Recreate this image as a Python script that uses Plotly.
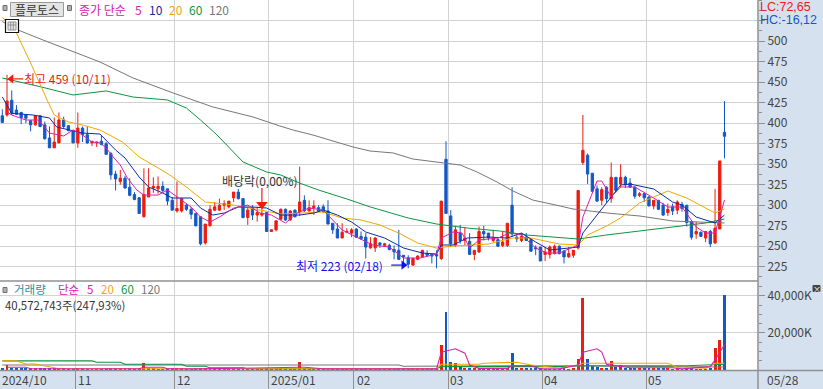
import plotly.graph_objects as go

W, H = 823, 389
RED, BLUE = "#EE1C0E", "#1259C6"
C5, C10, C20, C60, C120 = "#D820B0", "#0A2CA8", "#F0A800", "#0F9440", "#777777"
BAND = "#D6E1EF"
GRID = "#D2D2D2"
FONT = "Noto Sans CJK KR"

# [open, high, low, close] estimated per trading day
candles = [
 (409,417,400,401),(410,459,408,427),(428,440,410,412),(416,422,410,411),(413,414,399,407),
 (410,411,400,406),(403,404,390,398),(398,410,397,409),(409,410,395,396),(398,402,380,381),
 (382,396,370,370),(370,407,370,377),(376,413,376,404),(404,408,394,396),(397,397,390,391),
 (391,392,376,376),(376,413,370,394),(394,396,377,386),(386,396,375,376),(376,378,372,378),
 (376,377,371,377),(378,385,373,374),(375,377,362,362),(363,365,331,337),(338,342,318,332),
 (329,343,325,333),(333,336,320,321),(322,333,311,312),(313,316,306,307),(309,310,290,290),
 (286,345,285,313),(310,345,310,321),(321,334,315,323),(320,335,314,323),(323,329,316,318),
 (320,320,300,305),(306,310,294,294),(293,329,291,296),(293,308,291,308),(300,302,293,295),
 (295,298,283,289),(290,290,274,275),(286,286,251,253),(254,277,252,277),(275,300,274,295),
 (294,304,293,298),(294,308,293,300),(300,306,294,302),(298,305,296,305),(309,316,304,316),
 (316,320,307,308),(308,308,284,285),(285,298,276,294),(297,300,282,288),(288,298,280,291),
 (288,295,286,290),(291,292,268,268),(268,270,268,270),(270,281,268,281),(283,296,282,295),
 (295,296,281,282),(282,294,281,293),(294,295,285,286),(292,347,287,304),(306,312,292,293),
 (293,306,292,297),(297,306,288,299),(297,300,292,293),(298,301,291,292),(293,306,277,277),
 (278,278,265,270),(271,278,260,260),(260,278,260,267),(267,272,266,268),(266,272,261,270),
 (271,272,260,261),(262,268,258,259),(261,266,235,249),(248,261,247,253),(248,261,243,260),
 (254,255,248,252),(251,254,249,253),(251,253,245,246),(246,251,234,243),(245,270,233,234),
 (239,239,227,237),(236,239,223,228),(227,236,226,235),(234,239,233,238),(237,245,236,245),
 (241,245,237,239),(240,241,229,238),(240,245,223,238),(235,305,233,305),(356,378,290,290),
 (287,294,249,253),(251,275,249,270),(266,276,253,257),(257,273,251,260),(256,266,240,240),
 (240,245,233,245),(243,274,242,268),(268,275,257,265),(266,266,257,260),(257,270,255,260),
 (258,261,249,250),(251,268,249,255),(251,278,249,278),(300,322,262,265),(261,266,255,259),
 (257,266,255,262),(261,266,257,257),(258,259,243,244),(248,251,239,247),(249,249,232,232),
 (240,249,232,243),(240,251,235,249),(241,252,240,250),(250,251,240,241),(244,245,229,237),
 (237,249,236,241),(239,245,236,245),(248,318,246,318),(352,410,349,367),(361,363,326,338),
 (339,339,316,317),(320,324,304,305),(306,322,300,319),(322,323,303,308),(308,352,303,334),
 (334,334,317,318),(326,350,322,334),(334,336,321,325),(327,333,321,322),(322,323,308,311),
 (312,316,310,314),(314,315,304,309),(310,311,299,299),(299,306,295,306),(306,306,294,295),
 (300,303,287,288),(291,302,287,295),(298,302,288,293),(294,306,289,304),(301,304,292,296),
 (300,300,274,279),(280,281,258,261),(265,280,259,268),(267,268,262,262),(260,268,255,268),
 (268,270,249,253),(254,320,253,272),(271,354,271,354),(389,427,357,384),
]
volume = [
 900,2600,1100,700,600,700,600,900,700,800,
 1000,900,1200,700,500,500,800,600,500,400,
 400,500,600,800,700,600,700,600,500,800,
 3700,1000,600,500,500,700,700,800,600,500,
 500,600,700,1100,900,500,500,500,400,500,
 500,800,500,400,400,300,800,400,500,600,
 500,500,400,4400,900,500,400,400,300,400,
 500,500,500,400,300,300,300,600,400,400,
 300,300,300,400,600,300,500,400,300,400,
 300,300,500,13700,31100,4400,3700,1400,900,800,
 900,900,700,600,500,600,500,1100,9100,1200,
 700,700,1000,600,900,500,500,500,500,600,
 500,600,5800,38800,5800,2200,1400,1200,1000,4900,
 1500,2500,1000,900,1300,700,600,800,700,600,
 800,600,500,800,500,900,1000,500,400,500,
 700,12000,16400,40572.743,
]

ma120_x = [0,3.3,8.6,15.8,20.7,27.7,36.2,44.6,53.1,58.8,61.6,65.8,70,74.3,77.9,82.8,87,93.4,97,100.6,104.8,108.2,112.4,118.2,120.9,128.1,135.1,142.1,149.3,153]
ma120_y = [524,513.7,501.5,485.6,474.6,455.1,436.8,419.8,407.6,396.6,391.7,385.6,378.3,371,366.1,363.7,356.3,351.5,349,340.5,328.3,317.3,306.3,299,295.4,290.5,286.8,280.7,279.5,278.3]
ma60_x = [0,3.75,8.4,15,22,27.7,35,39,42,45.5,49,51,56,59,63,67,73,78,86,92,98.5,105.5,111,118,122,128,135,141,145,149,153]
ma60_y = [455.1,450.2,444,434.4,439.3,431.9,428.3,418.5,403.9,385.6,364.9,352.7,340.5,336.8,327,318.5,307.6,297.8,284.4,277.1,272.2,268.5,263.7,260,258.8,263.7,268.5,273.4,275.9,278.3,283.2]
ma20_x = [0,3,6,8,9.5,11,14,17,20.7,25.5,29,33,35.5,39,43,49,59,68,72,76,80,84,88,92,95.5,103,108,112,118,122,124,128,131,135,141,145,151,153]
ma20_y = [529.5,510,473.4,446.6,428.3,410,401.5,397.8,391.7,377,358.8,345.4,336.8,322.2,303.9,300.2,289.3,291.7,284.4,282,275.9,266.1,253.9,247.8,250.2,252.7,260,260,252.7,251.5,263.7,274.6,284.4,302.7,317.3,308.8,290.5,295.4]
ma10_x = [0,2,6.5,10,11.5,14,17,20.7,22,24,26,29,31,34,36,40,42,44.6,47,50,53,56,59,63,66,68,71,74,77,81,85,89,92,93,95.5,98.5,103,107,110,113,116,122,123,126,129,131,133,138,142,144,147,151,153]
ma10_y = [432,412,410,406.3,395.4,391.7,388,386.8,379.5,367.3,357.6,334.4,322.2,314.9,308.8,308.8,296.6,288,290.5,297.8,297.8,296.6,288,288,290.5,294.1,288,279.5,267.3,260,247.8,241.7,240.5,251.5,251.5,260,261.2,260,266.1,255.1,245.4,249,266.1,288,310,324.6,325.8,319.8,303.9,300.2,285.6,278.3,288]
ma5_x = [1,2,5,7.5,8.6,10,13,15,17,19,20.7,22,23.5,25,26.5,28.5,30,33,35,37,40,42,44,46,49,52,54.6,57,59,60,62.5,65,68,70,72,75,78.5,82,85,88.5,92,93,95.5,97.4,99,101,105,107.5,110,113,115.4,118,122,123,126,127,129,131,134,138,141,144,147,149,151,153]
ma5_y = [413.7,410,403.9,403.9,397.8,388,384.4,391.7,385.6,377,375.9,369.8,358.8,349,333.2,318.5,312.4,312.4,318.5,310,297.8,285.6,279.5,285.6,296.6,300.2,290.5,288,282,278.3,290.5,296.6,294.1,282,269.8,261.2,251.5,249,235.6,235.6,240.5,260,267.3,266.1,247.8,257.6,260,266.1,263.7,247.8,241.7,241.7,251.5,285.6,329.5,329.5,310,322.2,322.2,308.8,297.8,297.8,273.4,266.1,266.1,306.3]

vma120_x = [0,84,85,93,94,115,153]
vma120_y = [2700,2700,2000,2000,2300,2300,1600]
vma60_x = [0,19,20,25,26,38,39,43,44,51,52,92,93,103,108,118,122,141,145,153]
vma60_y = [4900,4900,4200,4200,3100,3100,2000,2000,1250,1250,650,650,1800,1800,1800,1800,2300,2300,2300,3100]
vma20_x = [0,3,5,7,11,12,60,92,93,101,102,109,112,118,122,123,141,142,143,146,149,151,153]
vma20_y = [4900,4900,3250,3250,1250,650,650,650,3100,3100,3650,4200,2700,1050,2700,3650,3650,2700,1450,1450,900,3650,3650]
vma5_x = [1,5,6,29,30,34,35,40,41,63,64,68,69,92,93,96,98,99,101,107,108,112,114,118,122,123,126,127,128,133,142,144,150,151,153]
vma5_y = [1450,1450,700,700,1450,1450,700,700,600,1450,1450,700,600,600,9650,11450,9100,2700,900,900,2300,2300,600,600,2700,9650,11450,9650,3100,1250,1250,600,1800,5450,13650]

month_ticks = [15.5,36.5,56.5,74.5,94.5,114.5,136.5]
month_labels = ["2024/10","11","12","2025/01","02","03","04","05"]
month_label_px = [2,78,177,271,357,450,544,648]
price_ticks = [225,250,275,300,325,350,375,400,425,450,475,500,525]
price_labels = ["225","250","275","300","325","350","375","400","425","450","475","500",""]
vol_ticks = [20000,40000]
vol_labels = ["20,000K","40,000K"]

ix = list(range(len(candles)))
fig = go.Figure()
fig.add_trace(go.Candlestick(
    x=ix, open=[c[0] for c in candles], high=[c[1] for c in candles],
    low=[c[2] for c in candles], close=[c[3] for c in candles],
    increasing=dict(line=dict(color=RED, width=1), fillcolor=RED),
    decreasing=dict(line=dict(color=BLUE, width=1), fillcolor=BLUE),
    whiskerwidth=0, xaxis="x", yaxis="y", showlegend=False, hoverinfo="skip"))
for xs, ys, col in [(ma120_x, ma120_y, C120), (ma60_x, ma60_y, C60), (ma20_x, ma20_y, C20),
                    (ma10_x, ma10_y, C10), (ma5_x, ma5_y, C5)]:
    fig.add_trace(go.Scatter(x=xs, y=ys, mode="lines", line=dict(color=col, width=1),
                             xaxis="x", yaxis="y", showlegend=False, hoverinfo="skip"))

bar_colors = [RED if c[3] >= c[0] else BLUE for c in candles]
fig.add_trace(go.Bar(x=ix, y=volume, width=0.62, marker=dict(color=bar_colors, line=dict(width=0)),
                     xaxis="x2", yaxis="y2", showlegend=False, hoverinfo="skip"))
for xs, ys, col in [(vma120_x, vma120_y, C120), (vma60_x, vma60_y, C60), (vma20_x, vma20_y, C20), (vma5_x, vma5_y, C5)]:
    fig.add_trace(go.Scatter(x=xs, y=ys, mode="lines", line=dict(color=col, width=1.1),
                             xaxis="x2", yaxis="y2", showlegend=False, hoverinfo="skip"))

# event markers
fig.add_trace(go.Scatter(x=[1.3,4.4], y=[454,454], mode="lines", line=dict(color=RED, width=1.2),
                         xaxis="x", yaxis="y", showlegend=False, hoverinfo="skip"))
fig.add_trace(go.Scatter(x=[1.9], y=[454], mode="markers", marker=dict(symbol="triangle-left", size=8, color=RED),
                         xaxis="x", yaxis="y", showlegend=False, hoverinfo="skip"))
fig.add_trace(go.Scatter(x=[55,55], y=[321,300], mode="lines", line=dict(color=RED, width=1.2),
                         xaxis="x", yaxis="y", showlegend=False, hoverinfo="skip"))
fig.add_trace(go.Scatter(x=[55], y=[301], mode="markers", marker=dict(symbol="triangle-down", size=10, color=RED),
                         xaxis="x", yaxis="y", showlegend=False, hoverinfo="skip"))
fig.add_trace(go.Scatter(x=[82.4,85], y=[227,227], mode="lines", line=dict(color="#1010F0", width=1.2),
                         xaxis="x", yaxis="y", showlegend=False, hoverinfo="skip"))
fig.add_trace(go.Scatter(x=[85], y=[227], mode="markers", marker=dict(symbol="triangle-right", size=8, color="#1010F0"),
                         xaxis="x", yaxis="y", showlegend=False, hoverinfo="skip"))

def px(x): return x / W
def py(y): return 1 - y / H

anns = []
def text(x, y, s, color="#333333", size=12, anchor="left", family=FONT):
    anns.append(dict(xref="paper", yref="paper", x=px(x), y=py(y), text=s, showarrow=False,
                     xanchor=anchor, yanchor="middle", borderpad=0, borderwidth=0,
                     font=dict(family=family, size=size, color=color)))

HEAD_Y = 9
text(15, HEAD_Y, "플루토스", "#333333", 12)
text(79, HEAD_Y, "종가 단순", C5, 12)
text(135, HEAD_Y, "5", C5, 12)
text(149, HEAD_Y, "10", C10, 12)
text(169, HEAD_Y, "20", C20, 12)
text(189, HEAD_Y, "60", C60, 12)
text(209, HEAD_Y, "120", C120, 12)
VLEG_Y = 288.5
text(14, VLEG_Y, "거래량", "#2E8F9C", 11.5)
text(58, VLEG_Y, "단순", C5, 11.5)
text(87, VLEG_Y, "5", C5, 11.5)
text(101, VLEG_Y, "20", C20, 11.5)
text(121, VLEG_Y, "60", C60, 11.5)
text(141, VLEG_Y, "120", C120, 11.5)
text(5, 305.2, "40,572,743주(247,93%)", "#333333", 11.4)
text(24, 78, "최고 459 (10/11)", RED, 12)
text(222, 180, "배당락(0,00%)", "#333333", 12)
text(296, 265, "최저 223 (02/18)", "#1010F0", 12)
text(760, 7, "LC:72,65", RED, 12.5, family="Liberation Sans")
text(760, 20, "HC:-16,12", BLUE, 12.5, family="Liberation Sans")
for lab, p in zip(month_labels, month_label_px):
    text(p, 379, lab, "#444444", 12)
text(767, 379, "05/28", "#444444", 12)

shapes = []
def seg(x0, y0, x1, y1, color="#909090", w=1.5):
    shapes.append(dict(type="line", xref="paper", yref="paper", x0=px(x0), x1=px(x1), y0=py(y0), y1=py(y1),
                       line=dict(color=color, width=w)))
def widget(x0, y0, x1, y1, fill, line="#808080", w=1):
    shapes.append(dict(type="rect", xref="paper", yref="paper", x0=px(x0), x1=px(x1), y0=py(y0), y1=py(y1),
                       fillcolor=fill, line=dict(color=line, width=w)))

seg(0, 281, 758, 281)
seg(0, 370.5, 823, 370.5)
seg(758, 0, 758, 389)
widget(10.5, 2.5, 63.5, 16.5, "#E4E4E4", "#9A9A9A")
widget(3, 5.5, 7, 10.5, "#B0B0B0", "#707070")
widget(67.5, 5.5, 71.5, 10.5, "#B0B0B0", "#707070")
widget(3, 287.5, 7, 292.5, "#B0B0B0", "#707070")
widget(5.5, 19.5, 18.5, 32.5, "#FFFFFF", "#111111", 1.2)
widget(8, 22, 16, 30, "#E8E8E8", "#909090", 1)
seg(10.7, 22, 10.7, 30, "#909090", 1)
seg(13.3, 22, 13.3, 30, "#909090", 1)
seg(8, 25, 16, 25, "#909090", 1)
widget(813, 285.5, 820, 291.5, "#444444", "#444444")
text(816.5, 288.2, "×", "#FFFFFF", 8, "center")

x_range = [-0.487, 160.1]
fig.update_layout(
    width=W, height=H, margin=dict(l=0, r=0, t=0, b=0), autosize=False,
    paper_bgcolor=BAND, plot_bgcolor="#FFFFFF", bargap=0,
    font=dict(family=FONT, size=12, color="#444444"),
    showlegend=False, annotations=anns, shapes=shapes,
    xaxis=dict(domain=[0, 758/W], range=x_range, anchor="y", tickmode="array", tickvals=month_ticks,
               showticklabels=False, ticks="", showgrid=True, gridcolor=GRID, gridwidth=1.4,
               zeroline=False, rangeslider=dict(visible=False), fixedrange=True),
    xaxis2=dict(domain=[0, 758/W], range=x_range, anchor="y2", tickmode="array", tickvals=month_ticks,
                showticklabels=False, ticks="outside", ticklen=19, tickcolor="#909090", tickwidth=1.4,
                showgrid=True, gridcolor=GRID, gridwidth=1.4, zeroline=False, fixedrange=True),
    yaxis=dict(domain=[108/H, 1], range=[207.6, 550.2], side="right", anchor="x", tickmode="array",
               tickvals=price_ticks, ticktext=price_labels, showgrid=True, gridcolor=GRID, gridwidth=1.2,
               ticks="outside", ticklen=6, tickcolor="#909090", tickwidth=1, zeroline=False,
               tickfont=dict(family=FONT, size=12, color="#444444"),
               minor=dict(dtick=12.5, tick0=0, ticks="outside", ticklen=3, tickcolor="#909090", showgrid=False),
               fixedrange=True),
    yaxis2=dict(domain=[19/H, 108/H], range=[0, 48000], side="right", anchor="x2", tickmode="array",
                tickvals=vol_ticks, ticktext=vol_labels, showgrid=True, gridcolor=GRID, gridwidth=1.2,
                ticks="outside", ticklen=6, tickcolor="#909090", tickwidth=1, zeroline=False,
                tickfont=dict(family=FONT, size=12, color="#444444"),
                minor=dict(dtick=5000, tick0=0, ticks="outside", ticklen=3, tickcolor="#909090", showgrid=False),
                fixedrange=True),
)
fig.write_html("out.html", config={"displayModeBar": False},
               post_script="document.documentElement.style.margin='0';document.body.style.margin='0';document.body.style.padding='0';document.body.style.overflow='hidden';")
